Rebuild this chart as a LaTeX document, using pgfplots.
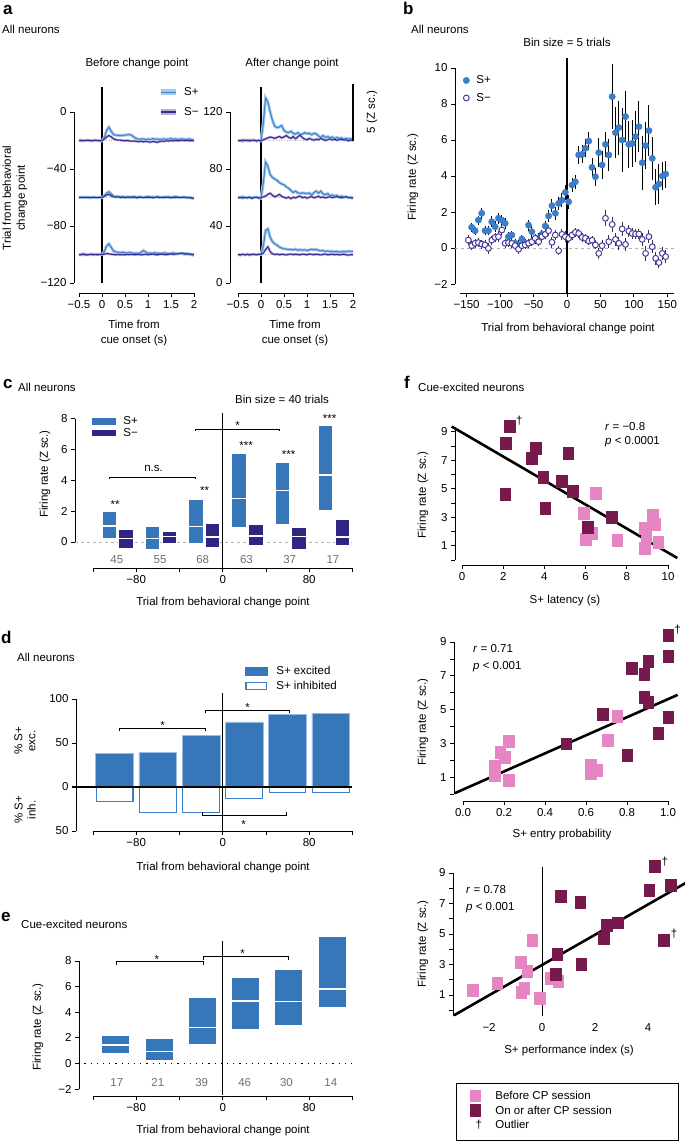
\documentclass[border=0pt]{standalone}
\usepackage{fontspec}
\setmainfont{Liberation Sans}
\usepackage{pgfplots}
\pgfplotsset{compat=1.18}
\usepackage{pgfplotstable}

\newcommand{\fs}{\fontsize{11.5}{13.5}\selectfont}
\newcommand{\plab}{\fontsize{17}{17}\selectfont\bfseries}
\definecolor{SPa}{RGB}{62,135,210}
\definecolor{SPaband}{RGB}{168,201,236}
\definecolor{SMa}{RGB}{60,42,140}
\definecolor{SMaband}{RGB}{185,176,218}
\definecolor{SPb}{RGB}{58,125,200}
\definecolor{SMb}{RGB}{75,58,158}
\definecolor{SPc}{RGB}{55,118,185}
\definecolor{SMc}{RGB}{46,38,130}
\definecolor{SPedge}{RGB}{150,190,230}
\definecolor{pinkF}{RGB}{229,134,194}
\definecolor{darkF}{RGB}{118,26,77}
\definecolor{numgray}{RGB}{110,110,110}

\pgfplotsset{
  panel/.style={scale only axis, anchor=south west, axis x line*=bottom, axis y line*=left,
    clip=false, tick align=outside, major tick length=4pt,
    tick style={black, line width=0.8pt},
    axis line style={black, line width=0.9pt},
    tick label style={font=\fs, black},
    /pgf/number format/assume math mode=true,
    legend cell align=left},
}
% box: colour, left edge, right edge, low, middle line, high
\newcommand{\bxp}[6]{%
  \addplot[fill=#1, draw=white, line width=0.5pt, forget plot] coordinates {(#2,#4) (#2,#6) (#3,#6) (#3,#4)} -- cycle;
  \addplot[white, line width=1.3pt, forget plot] coordinates {(#2,#5) (#3,#5)};}

% panel a, before change point (trial-axis units)
\pgfplotstableread{
t p1 m1 p2 m2 p3 m3
-0.50 -20 -20 -59.8 -60 -100.3 -100
-0.45 -19.7 -20.2 -60.1 -59.8 -99.8 -100.3
-0.40 -20.2 -19.9 -59.7 -60.1 -99.5 -99.8
-0.35 -19.8 -20.1 -60 -59.9 -99.9 -100.4
-0.30 -20 -19.8 -60.2 -59.7 -100.2 -100.1
-0.25 -20.3 -20 -59.9 -60.2 -100 -99.8
-0.20 -19.9 -20.2 -59.7 -60 -99.7 -100.2
-0.15 -19.7 -19.9 -60.1 -59.8 -100.1 -100
-0.10 -20 -20.1 -60 -60.1 -99.8 -100.3
-0.05 -20.2 -20 -59.8 -59.9 -100 -99.9
0.00 -20.3 -20.1 -60 -60 -99.9 -100.1
0.05 -18 -19 -58.8 -59.2 -98 -99.7
0.10 -13 -17.5 -57 -58.2 -94 -99.4
0.15 -10.6 -16.5 -56 -57.8 -92.5 -99.5
0.20 -13.5 -17.5 -57.5 -58.8 -95 -99.8
0.25 -15.8 -18.8 -59 -59.5 -97.5 -100
0.30 -16.2 -19.4 -59.5 -59.8 -98.2 -100.2
0.35 -16.4 -19.7 -59.2 -59.5 -98.5 -99.9
0.40 -16.5 -19.8 -59.7 -60 -98.8 -100.3
0.45 -16.4 -20 -59.4 -59.7 -98.4 -100
0.50 -16.2 -20.2 -59.8 -60.1 -98.7 -100.2
0.55 -16 -19.9 -59.5 -59.8 -99 -99.9
0.60 -15.8 -20.3 -59.9 -59.6 -98.6 -100.1
0.65 -16.5 -20.5 -59.6 -60 -98.9 -99.8
0.70 -17.8 -20.3 -59.4 -59.7 -99.2 -100.2
0.75 -18.6 -20.6 -59.8 -60.2 -99 -100
0.80 -19.2 -20.8 -59.5 -59.9 -99.3 -99.9
0.85 -19 -20.5 -59.7 -59.7 -98.5 -100.3
0.90 -18.8 -20.9 -60 -60.1 -97.2 -100
0.95 -19.4 -20.6 -59.6 -59.8 -98.2 -99.8
1.00 -19 -20.8 -59.4 -60 -99.1 -100.1
1.05 -19.2 -21.2 -59.8 -59.7 -98.9 -99.9
1.10 -18.7 -20.7 -59.6 -60.2 -99.3 -99.7
1.15 -19.1 -20.9 -59.9 -59.9 -98.7 -100
1.20 -18.9 -21.3 -59.5 -59.6 -99.2 -100.2
1.25 -19.3 -20.8 -59.7 -60 -99 -99.9
1.30 -19.1 -20.4 -60 -59.8 -99.4 -99.7
1.35 -18.8 -20.6 -59.6 -60.1 -98.8 -100
1.40 -19.2 -20.2 -59.8 -59.7 -99.1 -100.1
1.45 -19 -20.4 -59.5 -59.9 -99.5 -99.8
1.50 -18.7 -20 -59.9 -60.2 -99.2 -99.6
1.55 -19.1 -20.3 -59.7 -59.8 -98.9 -99.9
1.60 -18.9 -19.9 -59.4 -60 -99.4 -99.7
1.65 -19.3 -20.2 -59.8 -59.7 -99.6 -99.5
1.70 -19 -20 -60 -60.1 -99.1 -99.2
1.75 -18.8 -19.8 -59.7 -59.9 -99.5 -99
1.80 -19.2 -20.1 -59.9 -59.7 -99.8 -99.4
1.85 -19.1 -19.9 -60.2 -60 -99.4 -99.7
1.90 -18.9 -20.2 -59.8 -60.2 -99.9 -99.5
1.95 -19.4 -20 -60.3 -60.4 -100.3 -99.8
2.00 -19.8 -20.3 -60.5 -60.6 -100.5 -100
}\tabL

% panel a, after change point
\pgfplotstableread{
t p1 m1 p2 m2 p3 m3
-0.50 99.7 100.2 60.3 59.7 20.2 20
-0.45 100.2 99.7 59.8 60.2 19.6 19.7
-0.40 99.5 100.4 60.5 59.5 20.1 20.2
-0.35 100.3 99.9 60 60.1 19.7 19.8
-0.30 99.8 100.3 59.7 59.8 20.3 20.1
-0.25 100.4 99.6 60.2 60.3 19.8 19.6
-0.20 99.9 100.1 59.6 59.4 20 20.2
-0.15 100.3 100.3 60.1 60 20.2 20
-0.10 99.6 99.8 60.3 60.2 19.9 19.8
-0.05 100 100.2 59.8 59.6 20.3 20.1
0.00 99.8 99.7 59.5 59.8 20.1 20
0.05 112 100.5 70 60.5 26 21
0.10 130 101.2 85 61 37 23.5
0.15 127 101.8 82 62.2 38 25.4
0.20 120 102.5 76 63 32 22
0.25 114 102 74 61.5 29 20.5
0.30 110 101.5 73 60.5 27.5 20
0.35 109 102.2 72 61.2 26.5 20.3
0.40 109.5 102.8 70.5 62.2 25.2 19.8
0.45 110.5 101.8 69.5 60.8 24.5 20.2
0.50 107 102.5 69 60.2 24 20
0.55 106 103.5 67.5 59.5 23.8 19.7
0.60 105.5 102.2 66.5 60.3 23.5 20.1
0.65 106.5 101.5 65 59.2 23.5 20.3
0.70 105 102.8 63.5 60.2 23.2 19.9
0.75 104.5 101.2 64.5 59.7 23.8 20.2
0.80 105.5 102.5 63.2 60.5 23 20
0.85 104.2 103.8 63 61 23.4 19.8
0.90 104.5 102 63.2 59.8 23 20.3
0.95 105.5 101 63 60.4 23.3 20.1
1.00 104.8 100.5 62.8 59.5 22.8 19.8
1.05 105.2 101.5 63.2 60.2 23.2 20.4
1.10 104 100.8 61.5 60.6 23.6 20.1
1.15 105 100.2 63.5 59.8 23.3 19.9
1.20 104.7 101 64.5 60.3 23.5 20.2
1.25 103.2 100.5 63 60.8 23 20
1.30 102.2 101.5 64.5 60 22.5 19.7
1.35 103.5 100.8 62.5 60.4 22.8 20.1
1.40 102 100 62 59.7 22.2 20.3
1.45 102.8 100.6 62.8 60.2 22.5 19.8
1.50 101.9 101.2 61.2 60.5 22 20
1.55 102.5 100.4 61.8 59.9 22.4 20.2
1.60 101.2 100.8 60.8 60.3 21.8 19.9
1.65 102.2 100.2 61.5 60.6 22.2 20.1
1.70 101.4 100.6 60.4 60.1 21.6 19.7
1.75 101.8 101 61 59.8 22 20
1.80 100.8 100.3 60.2 60.3 22.2 20.2
1.85 101.6 100.5 60.6 60.5 21.8 19.8
1.90 101 99.8 59.8 60 22.4 19.6
1.95 101.3 100.3 60.3 59.7 22.2 19.9
2.00 100.5 100 59.7 59.5 22 19.8
}\tabR

% panel b
\pgfplotstableread{
x y e
-142.5 1.15 0.25
-137.5 0.96 0.22
-132.5 1.55 0.25
-127.5 1.93 0.3
-122.5 0.96 0.25
-117.5 0.96 0.25
-112.5 1.46 0.3
-107.5 1.18 0.3
-102.5 1.65 0.3
-97.5 1.55 0.3
-92.5 1.37 0.3
-87.5 0.63 0.25
-82.5 0.72 0.25
-77.5 0.26 0.25
-72.5 0.17 0.25
-67.5 0.5 0.25
-62.5 0.26 0.25
-57.5 1.27 0.3
-52.5 0.9 0.3
-47.5 0.48 0.25
-42.5 0.57 0.25
-37.5 0.76 0.25
-32.5 1.22 0.3
-27.5 1.78 0.35
-22.5 2.35 0.35
-17.5 1.93 0.35
-12.5 2.48 0.35
-7.5 2.66 0.4
-2.5 3.09 0.4
2.5 2.57 0.4
7.5 3.5 0.4
12.5 3.68 0.4
17.5 5.17 0.5
22.5 5.2 0.5
27.5 5.54 0.5
32.5 5.94 0.5
37.5 4.48 0.5
42.5 3.96 0.5
47.5 5.3 0.8
52.5 4.61 0.8
57.5 5.76 0.7
62.5 5.17 0.9
67.5 8.41 1.8
72.5 6.41 1.4
77.5 6.69 1.5
82.5 6.0 1.8
87.5 7.3 1.4
92.5 5.76 1.3
97.5 5.81 1.3
102.5 6.19 1.4
107.5 6.74 1.4
112.5 4.74 1.5
117.5 5.69 1.3
122.5 6.52 1.4
127.5 4.98 1.2
132.5 3.37 1.0
137.5 3.56 1.1
142.5 4.0 0.8
147.5 4.11 0.75
}\tabBp
\pgfplotstableread{
x y e
-147.5 0.44 0.3
-142.5 0.13 0.25
-137.5 0.26 0.25
-132.5 0.3 0.25
-127.5 0.22 0.25
-122.5 0.17 0.25
-117.5 -0.02 0.3
-112.5 0.44 0.25
-107.5 0.59 0.25
-102.5 0.63 0.3
-97.5 1.0 0.3
-92.5 0.26 0.25
-87.5 0.3 0.25
-82.5 0.26 0.25
-77.5 0.13 0.25
-72.5 -0.07 0.25
-67.5 0.13 0.25
-62.5 0.17 0.25
-57.5 0.26 0.25
-52.5 0.35 0.25
-47.5 0.54 0.25
-42.5 0.35 0.25
-37.5 0.63 0.25
-32.5 0.76 0.25
-27.5 0.96 0.3
-22.5 0.32 0.3
-17.5 0.72 0.3
-12.5 -0.15 0.25
-7.5 0.76 0.3
-2.5 0.63 0.3
2.5 0.54 0.25
7.5 0.72 0.25
12.5 0.87 0.25
17.5 0.81 0.25
22.5 0.59 0.25
27.5 0.54 0.25
32.5 0.39 0.25
37.5 0.43 0.25
42.5 0.17 0.25
47.5 -0.3 0.3
52.5 0.13 0.3
57.5 1.65 0.45
62.5 0.35 0.35
67.5 1.31 0.4
72.5 0.48 0.35
77.5 0.26 0.35
82.5 1.06 0.4
87.5 0.2 0.35
92.5 0.94 0.35
97.5 0.81 0.3
102.5 0.78 0.3
107.5 0.78 0.3
112.5 0.48 0.35
117.5 -0.3 0.4
122.5 0.63 0.35
127.5 0.07 0.35
132.5 -0.57 0.35
137.5 -0.81 0.3
142.5 -0.3 0.35
147.5 -0.48 0.35
}\tabBm

\begin{document}
\begin{tikzpicture}[font=\fs]
\useasboundingbox (0pt,0pt) rectangle (685pt,-1141pt);

%%%%%%%%%%%%%%%% a left
\begin{axis}[panel, at={(79pt,-283pt)}, width=115pt, height=171pt,
  xmin=-0.5, xmax=2, ymin=-120, ymax=0,
  axis y line shift=5pt, axis x line shift=10pt,
  xtick={-0.5,0,0.5,1,1.5,2}, xticklabels={−0.5,0,0.5,1,1.5,2},
  ytick={-120,-80,-40,0}, yticklabels={−120,−80,−40,0},
  legend style={at={(0.687,1.149)}, anchor=north west, draw=none, fill=none, inner sep=0pt, row sep=8pt, nodes={inner sep=1pt}, font=\fs}]
\addplot[gray!60, dotted, line width=0.7pt, forget plot] coordinates {(-0.5,-20) (2,-20)};
\addplot[gray!60, dotted, line width=0.7pt, forget plot] coordinates {(-0.5,-60) (2,-60)};
\addplot[gray!60, dotted, line width=0.7pt, forget plot] coordinates {(-0.5,-100) (2,-100)};
\addplot[black, line width=1.3pt, forget plot] coordinates {(0,17.5) (0,-120)};
\addplot[SMaband, line width=2.5pt, forget plot] table[x=t,y=m1]{\tabL};
\addplot[SMaband, line width=2.5pt, forget plot] table[x=t,y=m2]{\tabL};
\addplot[SMaband, line width=2.5pt, forget plot] table[x=t,y=m3]{\tabL};
\addplot[SPaband, line width=3pt, forget plot] table[x=t,y=p1]{\tabL};
\addplot[SPaband, line width=3pt, forget plot] table[x=t,y=p2]{\tabL};
\addplot[SPaband, line width=3pt, forget plot] table[x=t,y=p3]{\tabL};
\addplot[SPa, line width=1.1pt, line join=round, forget plot] table[x=t,y=p1]{\tabL};
\addplot[SPa, line width=1.1pt, line join=round, forget plot] table[x=t,y=p2]{\tabL};
\addplot[SPa, line width=1.1pt, line join=round, forget plot] table[x=t,y=p3]{\tabL};
\addplot[SMa, line width=1.1pt, line join=round, forget plot] table[x=t,y=m1]{\tabL};
\addplot[SMa, line width=1.1pt, line join=round, forget plot] table[x=t,y=m2]{\tabL};
\addplot[SMa, line width=1.1pt, line join=round, forget plot] table[x=t,y=m3]{\tabL};
\addlegendimage{legend image code/.code={\draw[SPaband, line width=6pt] (0pt,0pt) -- (15pt,0pt); \draw[SPa, line width=1.6pt] (0pt,0pt) -- (15pt,0pt); \path[draw=none, fill=none] (0pt,0pt) -- (22pt,0pt);}}
\addlegendentry{S+}
\addlegendimage{legend image code/.code={\draw[SMaband, line width=6pt] (0pt,0pt) -- (15pt,0pt); \draw[SMa, line width=1.6pt] (0pt,0pt) -- (15pt,0pt); \path[draw=none, fill=none] (0pt,0pt) -- (22pt,0pt);}}
\addlegendentry{S−}
\end{axis}

%%%%%%%%%%%%%%%% a right
\begin{axis}[panel, at={(238pt,-283pt)}, width=115pt, height=171pt,
  xmin=-0.5, xmax=2, ymin=0, ymax=120,
  axis y line shift=8pt, axis x line shift=10pt,
  xtick={-0.5,0,0.5,1,1.5,2}, xticklabels={−0.5,0,0.5,1,1.5,2},
  ytick={0,40,80,120}, yticklabels={0,40,80,120}]
\addplot[gray!60, dotted, line width=0.7pt, forget plot] coordinates {(-0.5,20) (2,20)};
\addplot[gray!60, dotted, line width=0.7pt, forget plot] coordinates {(-0.5,60) (2,60)};
\addplot[gray!60, dotted, line width=0.7pt, forget plot] coordinates {(-0.5,100) (2,100)};
\addplot[black, line width=1.3pt, forget plot] coordinates {(0,137.5) (0,0)};
\addplot[SMaband, line width=2.5pt, forget plot] table[x=t,y=m1]{\tabR};
\addplot[SMaband, line width=2.5pt, forget plot] table[x=t,y=m2]{\tabR};
\addplot[SMaband, line width=2.5pt, forget plot] table[x=t,y=m3]{\tabR};
\addplot[SPaband, line width=3pt, forget plot] table[x=t,y=p1]{\tabR};
\addplot[SPaband, line width=3pt, forget plot] table[x=t,y=p2]{\tabR};
\addplot[SPaband, line width=3pt, forget plot] table[x=t,y=p3]{\tabR};
\addplot[SPa, line width=1.1pt, line join=round, forget plot] table[x=t,y=p1]{\tabR};
\addplot[SPa, line width=1.1pt, line join=round, forget plot] table[x=t,y=p2]{\tabR};
\addplot[SPa, line width=1.1pt, line join=round, forget plot] table[x=t,y=p3]{\tabR};
\addplot[SMa, line width=1.1pt, line join=round, forget plot] table[x=t,y=m1]{\tabR};
\addplot[SMa, line width=1.1pt, line join=round, forget plot] table[x=t,y=m2]{\tabR};
\addplot[SMa, line width=1.1pt, line join=round, forget plot] table[x=t,y=m3]{\tabR};
\addplot[black, line width=2pt, forget plot] coordinates {(2,100) (2,140)};
\end{axis}

%%%%%%%%%%%%%%%% b
\begin{axis}[panel, at={(460pt,-284pt)}, width=214pt, height=216pt,
  xmin=-160, xmax=160, ymin=-2, ymax=10,
  axis y line shift=5pt, axis x line shift=9pt,
  xtick={-150,-100,-50,0,50,100,150}, xticklabels={−150,−100,−50,0,50,100,150},
  ytick={-2,0,2,4,6,8,10}, yticklabels={−2,0,2,4,6,8,10},
  legend style={at={(0.01,0.970)}, anchor=north west, draw=none, fill=none, inner sep=0pt, row sep=6pt, nodes={inner sep=1pt}, font=\fs},
  legend image code/.code={\draw[#1] plot coordinates {(4pt,0pt)}; \path[draw=none, fill=none] (0pt,0pt) -- (13pt,0pt);}]
\addplot[gray!60, dashed, line width=0.6pt, forget plot] coordinates {(-168,0) (160,0)};
\addplot[black, line width=1.2pt, forget plot] coordinates {(0,10.55) (0,-2.5)};
\addplot[only marks, mark=none, forget plot, error bars/.cd, y dir=both, y explicit, error bar style={black, line width=1pt}, error mark=none] table[x=x,y=y,y error=e]{\tabBp};
\addplot[only marks, mark=none, forget plot, error bars/.cd, y dir=both, y explicit, error bar style={black!80, line width=1pt}, error mark=none] table[x=x,y=y,y error=e]{\tabBm};
\addplot[only marks, mark=*, mark size=3.2pt, color=SPb] table[x=x,y=y]{\tabBp};
\addlegendentry{S+}
\addplot[only marks, mark=*, mark size=2.9pt, mark options={fill=white, draw=SMb, line width=1pt}] table[x=x,y=y]{\tabBm};
\addlegendentry{S−}
\end{axis}

%%%%%%%%%%%%%%%% c
\begin{axis}[panel, at={(93pt,-542pt)}, width=259.4pt, height=123.2pt,
  xmin=-120, xmax=120, ymin=0, ymax=8,
  axis y line shift=18pt, axis x line shift=26pt,
  xtick={-120,-80,-40,0,40,80,120}, xticklabels={,−80,,0,,80,},
  ytick={0,2,4,6,8}, yticklabels={0,2,4,6,8},
  legend style={at={(-0.004,1.028)}, anchor=north west, draw=none, fill=none, inner sep=0pt, row sep=0pt, nodes={inner sep=1pt}, font=\fs}]
\addplot[gray!60, dashed, line width=0.6pt, forget plot] coordinates {(-136.7,0) (120,0)};
\addplot[black, line width=1.2pt, forget plot] coordinates {(0,8.38) (0,-1.69)};
\bxp{SPc}{-111.7}{-98.3}{0.24}{1.04}{1.97}
\bxp{SMc}{-96.2}{-82.8}{-0.41}{0.22}{0.82}
\bxp{SPc}{-71.7}{-58.3}{-0.48}{0.22}{1.02}
\bxp{SMc}{-56.2}{-42.8}{-0.09}{0.37}{0.69}
\bxp{SPc}{-31.7}{-18.3}{-0.11}{1.02}{2.8}
\bxp{SMc}{-16.2}{-2.8}{-0.33}{0.33}{1.19}
\bxp{SPc}{8.3}{21.7}{0.93}{2.82}{5.77}
\bxp{SMc}{23.8}{37.2}{-0.24}{0.39}{1.15}
\bxp{SPc}{48.3}{61.7}{1.15}{3.34}{5.2}
\bxp{SMc}{63.8}{77.2}{-0.48}{0.35}{0.98}
\bxp{SPc}{88.3}{101.7}{2.04}{4.36}{7.59}
\bxp{SMc}{103.8}{117.2}{-0.24}{0.33}{1.5}
\addlegendimage{legend image code/.code={\fill[SPc] (0pt,-2.8pt) rectangle (23pt,2.8pt); \path[draw=none, fill=none] (0pt,0pt) -- (30pt,0pt);}}
\addlegendentry{S+}
\addlegendimage{legend image code/.code={\fill[SMc] (0pt,-2.8pt) rectangle (23pt,2.8pt); \path[draw=none, fill=none] (0pt,0pt) -- (30pt,0pt);}}
\addlegendentry{S−}
\node[numgray] at (axis cs:-98,-1.17) {45};
\node[numgray] at (axis cs:-58,-1.17) {55};
\node[numgray] at (axis cs:-18.5,-1.17) {68};
\node[numgray] at (axis cs:22,-1.17) {63};
\node[numgray] at (axis cs:62,-1.17) {37};
\node[numgray] at (axis cs:102,-1.17) {17};
\draw[line width=0.6pt] (axis cs:-104.5,4.07) -- (axis cs:-104.5,4.22) -- (axis cs:-25,4.22) -- (axis cs:-25,4.07);
\node[anchor=base] at (axis cs:-64,4.55) {n.s.};
\draw[line width=0.6pt] (axis cs:-25,7.19) -- (axis cs:-25,7.34) -- (axis cs:52.7,7.34) -- (axis cs:52.7,7.19);
\node[anchor=base] at (axis cs:13.9,7.3) {*};
\node[anchor=base] at (axis cs:-99.5,2.17) {**};
\node[anchor=base] at (axis cs:-16.7,3.08) {**};
\node[anchor=base] at (axis cs:21.7,6.0) {***};
\node[anchor=base] at (axis cs:61,5.42) {***};
\node[anchor=base] at (axis cs:99,7.75) {***};
\end{axis}

%%%%%%%%%%%%%%%% d
\begin{axis}[panel, at={(93pt,-831pt)}, width=259.4pt, height=132pt,
  xmin=-120, xmax=120, ymin=-50, ymax=100,
  axis y line shift=17pt,
  xtick={-120,-80,-40,0,40,80,120}, xticklabels={,−80,,0,,80,},
  ytick={-50,0,50,100}, yticklabels={50,0,50,100},
  legend style={at={(0.586,1.258)}, anchor=north west, draw=none, fill=none, inner sep=0pt, row sep=3pt, nodes={inner sep=1pt}, font=\fs}]
\addplot[ybar, bar width=35, bar shift=0pt, fill=SPc, draw=SPedge, line width=0.6pt, forget plot] coordinates {(-100,38.2) (-60,38.9) (-20,58.4) (20,74) (60,82.4) (100,83.2)};
\addplot[ybar, bar width=34, bar shift=0pt, fill=white, draw=SPb, line width=1.1pt, forget plot] coordinates {(-100,-16.4) (-60,-29.4) (-20,-28.6) (20,-13.4) (60,-6.1) (100,-6.1)};
\addplot[black, line width=1.1pt, forget plot] coordinates {(-139,0) (120,0)};
\addplot[black, line width=1.2pt, forget plot] coordinates {(0,106.8) (0,-50)};
\addlegendimage{legend image code/.code={\fill[SPc] (0pt,-4pt) rectangle (22pt,4pt); \path[draw=none, fill=none] (0pt,0pt) -- (30pt,0pt);}}
\addlegendentry{S+ excited}
\addlegendimage{legend image code/.code={\draw[SPb, line width=1.2pt, fill=white] (0.6pt,-3.4pt) rectangle (21.4pt,3.4pt); \path[draw=none, fill=none] (0pt,0pt) -- (30pt,0pt);}}
\addlegendentry{S+ inhibited}
\draw[line width=0.6pt] (axis cs:-95.3,63.6) -- (axis cs:-95.3,67) -- (axis cs:-15.7,67) -- (axis cs:-15.7,63.6);
\node[anchor=base] at (axis cs:-55.5,65.2) {*};
\draw[line width=0.6pt] (axis cs:-15.7,84.1) -- (axis cs:-15.7,87.5) -- (axis cs:62,87.5) -- (axis cs:62,84.1);
\node[anchor=base] at (axis cs:23,85.7) {*};
\draw[line width=0.6pt] (axis cs:-18.5,-28.4) -- (axis cs:-18.5,-31.8) -- (axis cs:59.2,-31.8) -- (axis cs:59.2,-28.4);
\node[anchor=base] at (axis cs:19.4,-47.3) {*};
\end{axis}

%%%%%%%%%%%%%%%% e
\begin{axis}[panel, at={(93pt,-1089pt)}, width=259.4pt, height=128pt,
  xmin=-120, xmax=120, ymin=-2, ymax=8,
  axis y line shift=14pt, axis x line shift=7pt,
  xtick={-120,-80,-40,0,40,80,120}, xticklabels={,−80,,0,,80,},
  ytick={-2,0,2,4,6,8}, yticklabels={−2,0,2,4,6,8}]
\addplot[black, line width=1pt, dash pattern=on 1.2pt off 5pt, forget plot] coordinates {(-128,0) (120,0)};
\addplot[black, line width=1.2pt, forget plot] coordinates {(0,9.53) (0,-2.5)};
\bxp{SPc}{-112}{-86}{0.8}{1.45}{2.2}
\bxp{SPc}{-72}{-46}{0.26}{0.94}{1.95}
\bxp{SPc}{-32}{-6}{1.53}{2.8}{5.14}
\bxp{SPc}{8}{34}{2.7}{4.88}{6.7}
\bxp{SPc}{48}{74}{2.96}{4.83}{7.38}
\bxp{SPc}{88}{114}{4.39}{5.82}{9.9}
\node[numgray] at (axis cs:-98,-1.48) {17};
\node[numgray] at (axis cs:-60,-1.48) {21};
\node[numgray] at (axis cs:-19.4,-1.48) {39};
\node[numgray] at (axis cs:20.4,-1.48) {46};
\node[numgray] at (axis cs:59,-1.48) {30};
\node[numgray] at (axis cs:100,-1.48) {14};
\draw[line width=0.6pt] (axis cs:-98,7.7) -- (axis cs:-98,7.97) -- (axis cs:-17.6,7.97) -- (axis cs:-17.6,7.7);
\node[anchor=base] at (axis cs:-61,7.84) {*};
\draw[line width=0.6pt] (axis cs:-17.6,8.1) -- (axis cs:-17.6,8.36) -- (axis cs:61,8.36) -- (axis cs:61,8.1);
\node[anchor=base] at (axis cs:18.5,8.31) {*};
\end{axis}

%%%%%%%%%%%%%%%% f top
\begin{axis}[panel, at={(462pt,-560pt)}, width=206pt, height=133.2pt,
  xmin=0, xmax=10, ymin=0, ymax=9.35,
  axis y line shift=7pt, axis x line shift=5pt,
  xtick={0,2,4,6,8,10}, xticklabels={0,2,4,6,8,10},
  ytick={0,1,2,3,4,5,6,7,8,9}, yticklabels={,1,,3,,5,,7,,9}]
\addplot[only marks, mark=square*, mark size=5.2pt, color=pinkF, mark options={yscale=1.15}] coordinates {(6.49,4.68) (5.91,3.28) (6.3,1.89) (6.0,1.47) (7.52,1.37) (9.25,3.17) (9.38,2.54) (8.86,2.24) (8.93,1.65) (8.86,0.84) (9.51,1.23)};
\addplot[only marks, mark=square*, mark size=5.2pt, color=darkF, mark options={yscale=1.15}] coordinates {(2.32,9.41) (2.13,8.18) (3.38,7.13) (3.57,7.88) (5.16,7.53) (3.94,5.8) (4.84,5.5) (5.37,4.8) (2.11,4.61) (4.03,3.63) (7.27,3.03) (6.1,2.33)};
\addplot[black, line width=2.6pt] coordinates {(-0.5,9.37) (10.45,0.14)};
\node[anchor=west, inner sep=0pt] at (axis cs:2.62,9.75) {†};
\end{axis}

%%%%%%%%%%%%%%%% f middle
\begin{axis}[panel, at={(463pt,-794pt)}, width=205pt, height=152pt,
  xmin=0, xmax=1, ymin=0, ymax=9,
  axis y line shift=9pt, axis x line shift=7pt,
  xtick={0,0.2,0.4,0.6,0.8,1}, xticklabels={0.0,0.2,0.4,0.6,0.8,1.0},
  ytick={0,1,2,3,4,5,6,7,8,9}, yticklabels={,1,,3,,5,,7,,9}]
\addplot[only marks, mark=square*, mark size=5.2pt, color=pinkF, mark options={yscale=1.15}] coordinates {(0.753,4.6) (0.705,3.21) (0.222,3.11) (0.18,2.46) (0.203,2.17) (0.154,1.67) (0.154,1.14) (0.222,0.8) (0.623,1.73) (0.623,1.24) (0.656,1.43)};
\addplot[only marks, mark=square*, mark size=5.2pt, color=darkF, mark options={yscale=1.15}] coordinates {(1.0,9.4) (1.0,8.15) (0.823,7.46) (0.904,7.86) (0.883,7.07) (0.883,5.74) (0.904,5.45) (0.682,4.7) (1.0,4.56) (0.953,3.61) (0.502,2.98) (0.802,2.28)};
\addplot[black, line width=2.6pt] coordinates {(-0.04,0.05) (1.047,5.87)};
\node[anchor=west, inner sep=0pt] at (axis cs:1.03,9.75) {†};
\end{axis}

%%%%%%%%%%%%%%%% f bottom
\begin{axis}[panel, at={(453pt,-1016pt)}, width=224pt, height=143pt,
  xmin=-3.36, xmax=5.09, ymin=-0.38, ymax=9,
  x axis line style={draw=none}, xtick style={draw=none},
  xtick={-2,0,2,4}, xticklabels={−2,0,2,4},
  ytick={0,1,2,3,4,5,6,7,8,9}, yticklabels={,1,,3,,5,,7,,9},
  legend style={at={(0.076,-0.514)}, anchor=north west, draw=none, fill=none, inner sep=0pt, row sep=3pt, nodes={inner sep=1pt}, font=\fs},
  legend image code/.code={\draw[#1] plot coordinates {(5pt,0pt)}; \path[draw=none, fill=none] (0pt,0pt) -- (24pt,0pt);}]
\addplot[black, line width=1pt, forget plot] coordinates {(0,9.4) (0,-0.38)};
\addplot[only marks, mark=square*, mark size=5.2pt, color=pinkF, mark options={yscale=1.15}] coordinates {(-0.38,4.61) (-0.81,3.17) (-0.56,2.53) (-1.7,1.77) (-2.62,1.34) (-0.68,1.45) (-0.78,1.17) (-0.09,0.81) (0.33,2.1) (0.61,1.88)};
\addlegendentry{Before CP session}
\addplot[only marks, mark=square*, mark size=5.2pt, color=darkF, mark options={yscale=1.15}] coordinates {(4.25,9.46) (4.85,8.2) (4.03,7.87) (0.71,7.5) (1.44,7.11) (2.44,5.59) (2.86,5.74) (2.32,4.74) (4.59,4.57) (0.58,3.67) (1.47,3.0) (0.52,2.35)};
\addlegendentry{On or after CP session}
\addplot[black, line width=2.6pt, forget plot] coordinates {(-3.32,-0.33) (5.42,8.35)};
\addlegendimage{legend image code/.code={\node[inner sep=0pt] at (5pt,0pt) {†}; \path[draw=none, fill=none] (0pt,0pt) -- (24pt,0pt);}}
\addlegendentry{Outlier}
\node[anchor=west, inner sep=0pt] at (axis cs:4.5,9.75) {†};
\node[anchor=west, inner sep=0pt] at (axis cs:4.85,5.05) {†};
\end{axis}
\draw[line width=0.8pt] (456pt,-1083pt) rectangle (678pt,-1140pt);

%%%%%%%%%%%%%%%% texts
\begin{scope}[every node/.style={inner sep=0pt}]
% a
\node[anchor=base west, font=\plab] at (3pt,-14pt) {a};
\node[anchor=base west] at (2pt,-33pt) {All neurons};
\node[anchor=base] at (137pt,-66pt) {Before change point};
\node[anchor=base] at (292pt,-66pt) {After change point};
\node[rotate=90, align=center, font=\fontsize{11.5}{14}\selectfont] at (15pt,-198pt) {Trial from behavioral\\change point};
\node[align=center, anchor=north, font=\fontsize{11.5}{15}\selectfont] at (134pt,-320pt) {Time from\\cue onset (s)};
\node[align=center, anchor=north, font=\fontsize{11.5}{15}\selectfont] at (295pt,-320pt) {Time from\\cue onset (s)};
\node[rotate=90] at (372pt,-112pt) {5 (Z sc.)};
% b
\node[anchor=base west, font=\plab] at (403pt,-14pt) {b};
\node[anchor=base west] at (411pt,-33pt) {All neurons};
\node[anchor=base] at (567pt,-46pt) {Bin size = 5 trials};
\node[rotate=90] at (413pt,-177pt) {Firing rate (Z sc.)};
\node[anchor=base] at (568pt,-331pt) {Trial from behavioral change point};
% c
\node[anchor=base west, font=\plab] at (3pt,-388pt) {c};
\node[anchor=base west] at (18pt,-391pt) {All neurons};
\node[anchor=base] at (282pt,-403pt) {Bin size = 40 trials};
\node[rotate=90] at (45pt,-474pt) {Firing rate (Z sc.)};
\node[anchor=base] at (223pt,-605pt) {Trial from behavioral change point};
% d
\node[anchor=base west, font=\plab] at (1pt,-643pt) {d};
\node[anchor=base west] at (17pt,-661pt) {All neurons};
\node[rotate=90, align=center, font=\fontsize{11.5}{13}\selectfont] at (25pt,-741pt) {\% S+\\exc.};
\node[rotate=90, align=center, font=\fontsize{11.5}{13}\selectfont] at (25pt,-810pt) {\% S+\\inh.};
\node[anchor=base] at (223pt,-870pt) {Trial from behavioral change point};
% e
\node[anchor=base west, font=\plab] at (1pt,-921pt) {e};
\node[anchor=base west] at (21pt,-928pt) {Cue-excited neurons};
\node[rotate=90] at (38pt,-1027pt) {Firing rate (Z sc.)};
\node[anchor=base] at (223pt,-1133pt) {Trial from behavioral change point};
% f
\node[anchor=base west, font=\plab] at (404pt,-388pt) {f};
\node[anchor=base west] at (418pt,-391pt) {Cue-excited neurons};
\node[rotate=90] at (423pt,-495pt) {Firing rate (Z sc.)};
\node[anchor=base west] at (605pt,-430pt) {\textit{r} = −0.8};
\node[anchor=base west] at (605pt,-444pt) {\textit{p} < 0.0001};
\node[anchor=base] at (565pt,-603pt) {S+ latency (s)};
\node[rotate=90] at (423pt,-722pt) {Firing rate (Z sc.)};
\node[anchor=base west] at (473pt,-652pt) {\textit{r} = 0.71};
\node[anchor=base west] at (473pt,-669pt) {\textit{p} < 0.001};
\node[anchor=base] at (562pt,-837pt) {S+ entry probability};
\node[rotate=90] at (423pt,-944pt) {Firing rate (Z sc.)};
\node[anchor=base west] at (466pt,-893pt) {\textit{r} = 0.78};
\node[anchor=base west] at (466pt,-910pt) {\textit{p} < 0.001};
\node[anchor=base] at (569pt,-1053pt) {S+ performance index (s)};
\end{scope}
\end{tikzpicture}
\end{document}
